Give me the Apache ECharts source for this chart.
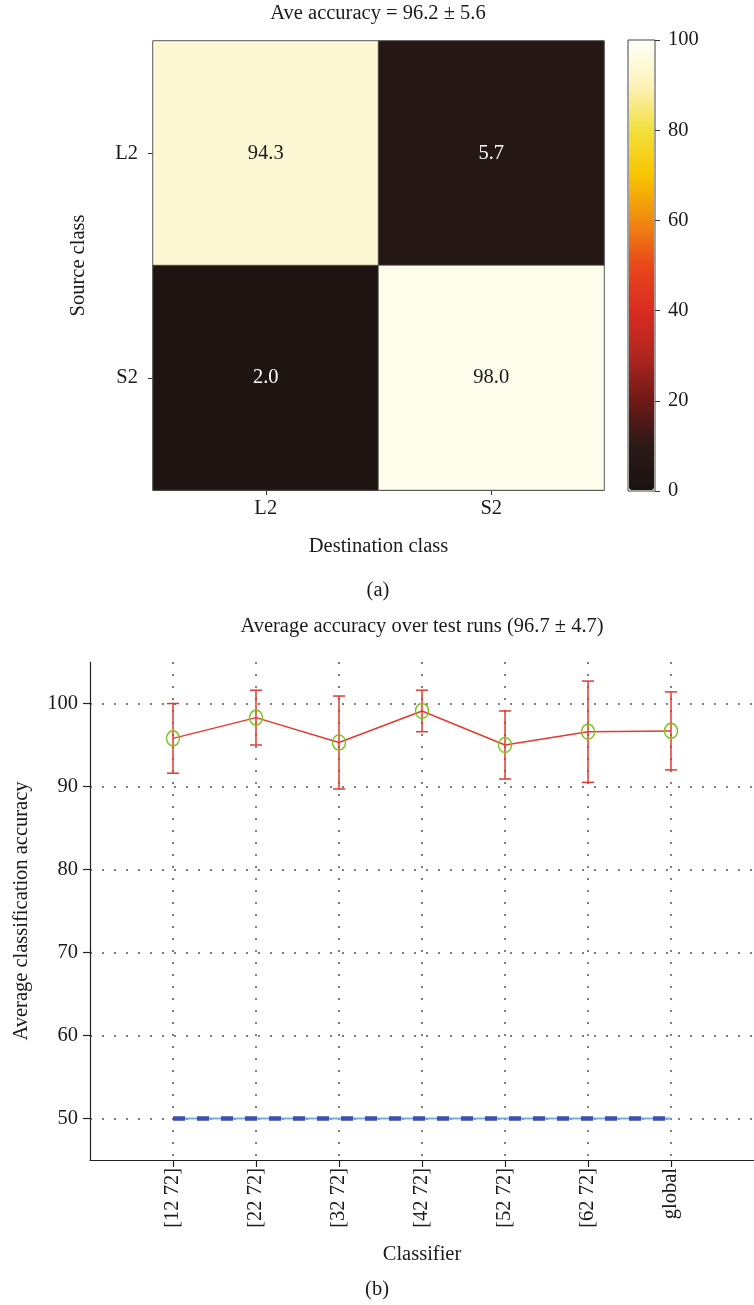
<!DOCTYPE html>
<html>
<head>
<meta charset="utf-8">
<script src="https://cdn.jsdelivr.net/npm/echarts@6/dist/echarts.min.js"></script>
<style>
html,body{margin:0;padding:0;background:#fff;}
#c{width:754px;height:1305px;}
</style>
</head>
<body>
<div id="c"></div>
<script>
// ---------- data ----------
const heatCategories = ['L2', 'S2'];
const confusionRowL2 = [94.3, 5.7];   // source L2 -> destination L2, S2
const confusionRowS2 = [2.0, 98.0];   // source S2 -> destination L2, S2
const colorbarTicks = [0, 20, 40, 60, 80, 100];

const classifiers = ['[12 72]', '[22 72]', '[32 72]', '[42 72]', '[52 72]', '[62 72]', 'global'];
const meanAccuracy = [95.8, 98.3, 95.3, 99.1, 95.0, 96.6, 96.7];
const stdAccuracy = [4.2, 3.3, 5.6, 2.5, 4.1, 6.1, 4.7];
const chanceLevel = [50, 50, 50, 50, 50, 50, 50];
const accuracyTicks = [50, 60, 70, 80, 90, 100];

const titleA = 'Ave accuracy = 96.2 \u00b1 5.6';
const titleB = 'Average accuracy over test runs (96.7 \u00b1 4.7)';

// ---------- styles ----------
const FONT = 'Liberation Serif';
const FS = 20.5;
const TXT = '#1a1a1a';
const RED = '#e23a2e';
const GREEN = '#7cc41e';

const heatData = [];
[confusionRowL2, confusionRowS2].forEach((row, i) => {
  row.forEach((v, j) => heatData.push([j, i, v]));
});

const classifierPos = classifiers.map((c, i) => i + 1);
const errData = classifierPos.map((x, i) => [x, meanAccuracy[i] - stdAccuracy[i], meanAccuracy[i] + stdAccuracy[i]]);
const meanData = classifierPos.map((x, i) => [x, meanAccuracy[i]]);
const chanceData = classifierPos.map((x, i) => [x, chanceLevel[i]]);

const chart = echarts.init(document.getElementById('c'), null, {renderer: 'canvas'});

const option = {
  backgroundColor: '#fff',
  animation: false,
  textStyle: {fontFamily: FONT, color: TXT},
  grid: [
    {left: 153, top: 41, width: 451, height: 449, show: true, borderColor: '#333', borderWidth: 1, backgroundColor: 'transparent'},
    {left: 628, top: 40, width: 27, height: 451, show: true, borderColor: '#444', borderWidth: 1, backgroundColor: 'transparent'},
    {left: 90, top: 662, width: 668, height: 498}
  ],
  xAxis: [
    {
      gridIndex: 0, type: 'category', data: heatCategories,
      axisLine: {show: true, lineStyle: {color: '#333'}},
      axisTick: {show: true, alignWithLabel: true, length: 5, lineStyle: {color: '#333'}},
      axisLabel: {fontFamily: FONT, fontSize: FS, color: TXT, margin: 8},
      splitLine: {show: false},
      name: 'Destination class', nameLocation: 'middle', nameGap: 46,
      nameTextStyle: {fontFamily: FONT, fontSize: FS, color: TXT}
    },
    {
      gridIndex: 1, type: 'value', show: false, min: 1, max: 2
    },
    {
      gridIndex: 2, type: 'value', min: 0, max: 8,
      axisLine: {show: true, lineStyle: {color: '#222', width: 1.2}},
      axisTick: {show: true, length: 7, customValues: classifierPos, lineStyle: {color: '#222', width: 1.2}},
      axisLabel: {
        customValues: classifierPos, rotate: 90, margin: 8,
        fontFamily: FONT, fontSize: FS, color: TXT,
        formatter: v => classifiers[Math.round(v) - 1] || ''
      },
      splitLine: {show: true, lineStyle: {color: '#555', width: 1.5, type: [2, 10]}},
      name: 'Classifier', nameLocation: 'middle', nameGap: 84,
      nameTextStyle: {fontFamily: FONT, fontSize: FS, color: TXT}
    }
  ],
  yAxis: [
    {
      gridIndex: 0, type: 'category', data: heatCategories, inverse: true,
      axisLine: {show: true, lineStyle: {color: '#333'}},
      axisTick: {show: true, alignWithLabel: true, length: 5, lineStyle: {color: '#333'}},
      axisLabel: {fontFamily: FONT, fontSize: FS, color: TXT, margin: 15},
      splitLine: {show: false},
      name: 'Source class', nameLocation: 'middle', nameGap: 64,
      nameTextStyle: {fontFamily: FONT, fontSize: FS, color: TXT}
    },
    {
      gridIndex: 1, type: 'value', position: 'right', min: 0, max: 100, interval: 20,
      axisLine: {show: false, onZero: false},
      axisTick: {show: true, inside: false, length: 5, lineStyle: {color: '#333'}},
      axisLabel: {fontFamily: FONT, fontSize: FS, color: TXT, margin: 13},
      splitLine: {show: false}
    },
    {
      gridIndex: 2, type: 'value', min: 45, max: 105,
      axisLine: {show: true, lineStyle: {color: '#222', width: 1.2}},
      axisTick: {show: true, length: 7, customValues: accuracyTicks, lineStyle: {color: '#222', width: 1.2}},
      axisLabel: {customValues: accuracyTicks, fontFamily: FONT, fontSize: FS, color: TXT, margin: 12},
      splitLine: {show: true, lineStyle: {color: '#555', width: 1.5, type: [2, 10]}},
      name: 'Average classification accuracy', nameLocation: 'middle', nameGap: 58,
      nameTextStyle: {fontFamily: FONT, fontSize: FS, color: TXT}
    }
  ],
  visualMap: {
    type: 'continuous', seriesIndex: 0, min: 0, max: 100,
    left: 629, top: 41, itemWidth: 25, itemHeight: 449, padding: 0,
    calculable: false, hoverLink: false, showLabel: false, text: null,
    inRange: {color: ['#1a1210', '#2c1a17', '#701a16', '#b02620', '#dc2b20', '#e8481a', '#f08a10', '#f8c400', '#f2e03a', '#fcf2b8', '#fffff8']}
  },
  series: [
    {
      type: 'heatmap', xAxisIndex: 0, yAxisIndex: 0, data: heatData,
      itemStyle: {borderColor: '#555', borderWidth: 0.8},
      label: {
        show: true, fontFamily: FONT, fontSize: FS,
        formatter: p => p.value[2].toFixed(1),
        color: '#fff'
      },
      emphasis: {disabled: true}
    },
    {
      type: 'line', xAxisIndex: 2, yAxisIndex: 2, data: chanceData,
      symbol: 'none', lineStyle: {color: '#6fb0e0', width: 2}, z: 3, silent: true
    },
    {
      type: 'line', xAxisIndex: 2, yAxisIndex: 2, data: chanceData,
      symbol: 'none', lineStyle: {color: '#3f4db0', width: 4.5, type: [12, 12]}, z: 4, silent: true
    },
    {
      type: 'custom', xAxisIndex: 2, yAxisIndex: 2, data: errData,
      encode: {x: 0, y: [1, 2]}, z: 5, silent: true,
      renderItem: (params, api) => {
        const x = api.value(0);
        const lo = api.coord([x, api.value(1)]);
        const hi = api.coord([x, api.value(2)]);
        const hw = 6;
        const st = {stroke: RED, lineWidth: 1.5};
        return {type: 'group', children: [
          {type: 'line', shape: {x1: lo[0], y1: lo[1], x2: hi[0], y2: hi[1]}, style: st},
          {type: 'line', shape: {x1: lo[0] - hw, y1: lo[1], x2: lo[0] + hw, y2: lo[1]}, style: st},
          {type: 'line', shape: {x1: hi[0] - hw, y1: hi[1], x2: hi[0] + hw, y2: hi[1]}, style: st}
        ]};
      }
    },
    {
      type: 'line', xAxisIndex: 2, yAxisIndex: 2, data: meanData, z: 6, silent: true,
      symbol: 'circle', symbolSize: [13, 15], showSymbol: true,
      lineStyle: {color: RED, width: 1.5},
      itemStyle: {color: 'rgba(0,0,0,0)', borderColor: GREEN, borderWidth: 1.5}
    }
  ],
  graphic: [
    {type: 'text', x: 378, y: 14, style: {text: titleA, fontFamily: FONT, fontSize: FS, fill: TXT, align: 'center', verticalAlign: 'middle'}},
    {type: 'text', x: 378, y: 591, style: {text: '(a)', fontFamily: FONT, fontSize: FS, fill: TXT, align: 'center', verticalAlign: 'middle'}},
    {type: 'text', x: 422, y: 627, style: {text: titleB, fontFamily: FONT, fontSize: FS, fill: TXT, align: 'center', verticalAlign: 'middle'}},
    {type: 'text', x: 377, y: 1290, style: {text: '(b)', fontFamily: FONT, fontSize: FS, fill: TXT, align: 'center', verticalAlign: 'middle'}}
  ]
};

// per-cell label colour: dark text on light cells
option.series[0].data = heatData.map(d => ({value: d, label: {color: d[2] > 50 ? '#1a1a1a' : '#ffffff'}}));

chart.setOption(option);
</script>
</body>
</html>
